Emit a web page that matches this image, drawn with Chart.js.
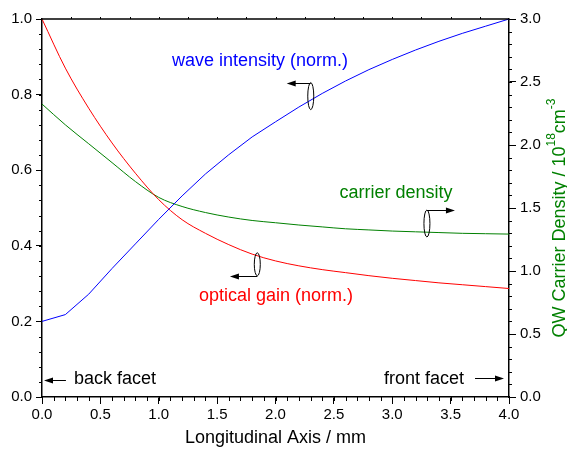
<!DOCTYPE html>
<html>
<head>
<meta charset="utf-8">
<script src="https://cdn.jsdelivr.net/npm/chart.js@4"></script>
<style>
  html, body { margin: 0; padding: 0; background: #fff; }
  #wrap { width: 567px; height: 453px; }
</style>
</head>
<body>
<div id="wrap"><canvas id="gainChart"></canvas></div>
<script>
// posiciones a lo largo del laser (mm)
var positions = [0, 0.2, 0.4, 0.6, 0.8, 1.0, 1.2, 1.4, 1.6, 1.8, 2.0, 2.2, 2.4, 2.6, 2.8, 3.0, 3.2, 3.4, 3.6, 3.8, 4.0];
// intensidad de onda (norm.) - eje izquierdo
var waveIntensity = [0.2, 0.218, 0.272, 0.34, 0.405, 0.47, 0.532, 0.59, 0.641, 0.688, 0.728, 0.767, 0.803, 0.836, 0.866, 0.893, 0.918, 0.941, 0.962, 0.981, 1.0];
// ganancia optica (norm.) - eje izquierdo
var opticalGain = [1.0, 0.87, 0.764, 0.672, 0.592, 0.522, 0.469, 0.433, 0.403, 0.378, 0.36, 0.347, 0.337, 0.329, 0.321, 0.314, 0.308, 0.302, 0.297, 0.292, 0.287];
// densidad de portadores (10^18 cm^-3) - eje derecho
var carrierDensity = [2.325, 2.16, 2.01, 1.86, 1.71, 1.584, 1.512, 1.464, 1.428, 1.401, 1.383, 1.365, 1.35, 1.335, 1.326, 1.317, 1.311, 1.305, 1.299, 1.296, 1.293];

var xTicks = [0, 0.5, 1.0, 1.5, 2.0, 2.5, 3.0, 3.5, 4.0];
var leftTicks = [0, 0.2, 0.4, 0.6, 0.8, 1.0];
var rightTicks = [0, 0.5, 1.0, 1.5, 2.0, 2.5, 3.0];

var FONT = "'Liberation Sans', Arial, sans-serif";

function toPoints(ys) {
  return positions.map(function (x, i) { return { x: x, y: ys[i] }; });
}

// Etiquetas y marcas (en unidades de datos del eje izquierdo)
var labels = [
  { text: "wave intensity (norm.)", x: 1.867, y: 0.889, color: "#0000ff", align: "center" },
  { text: "carrier density", x: 3.032, y: 0.539, color: "#008000", align: "center" },
  { text: "optical gain (norm.)", x: 2.004, y: 0.267, color: "#ff0000", align: "center" },
  { text: "back facet", x: 0.274, y: 0.048, color: "#000", align: "left" },
  { text: "front facet", x: 3.614, y: 0.048, color: "#000", align: "right" }
];
var facetArrows = [
  { x1: 0.205, x2: 0.017, y: 0.044 },
  { x1: 3.709, x2: 3.957, y: 0.049 }
];
var ellipses = [
  { x: 2.302, y: 0.796, ry: 13.5, toX: 2.096, side: "top" },
  { x: 1.844, y: 0.351, ry: 11.5, toX: 1.61, side: "bottom" },
  { x: 3.297, y: 0.459, ry: 13.5, toX: 3.537, side: "top" }
];

function arrowHead(ctx, x, y, dir) {
  ctx.beginPath();
  ctx.moveTo(x, y);
  ctx.lineTo(x - dir * 9, y - 3);
  ctx.lineTo(x - dir * 9, y + 3);
  ctx.closePath();
  ctx.fill();
}

var decorPlugin = {
  id: "decor",
  afterDraw: function (chart) {
    var ctx = chart.ctx;
    var xs = chart.scales.x, ys = chart.scales.y, y2 = chart.scales.y2;
    var area = chart.chartArea;
    ctx.save();

    // borde superior
    ctx.strokeStyle = "#000";
    ctx.lineWidth = 1.5;
    ctx.beginPath();
    ctx.moveTo(area.left, area.top);
    ctx.lineTo(area.right, area.top);
    ctx.stroke();

    // marcas menores
    ctx.lineWidth = 1;
    ctx.beginPath();
    var v, p;
    for (v = 0; v <= 4.0001; v += 0.1) {
      p = Math.round(xs.getPixelForValue(v)) + 0.5;
      ctx.moveTo(p, area.bottom);
      ctx.lineTo(p, area.bottom + 4);
    }
    for (v = 0.25; v < 4; v += 0.25) {
      p = Math.round(xs.getPixelForValue(v)) + 0.5;
      ctx.moveTo(p, area.top);
      ctx.lineTo(p, area.top - 2);
    }
    for (v = 0; v <= 1.0001; v += 0.04) {
      p = Math.round(ys.getPixelForValue(v)) + 0.5;
      ctx.moveTo(area.left, p);
      ctx.lineTo(area.left - 3, p);
    }
    for (v = 0; v <= 3.0001; v += 0.1) {
      p = Math.round(y2.getPixelForValue(v)) + 0.5;
      ctx.moveTo(area.right, p);
      ctx.lineTo(area.right + 3, p);
    }
    ctx.stroke();

    // textos
    ctx.font = "18px " + FONT;
    ctx.textBaseline = "middle";
    labels.forEach(function (l) {
      ctx.fillStyle = l.color;
      ctx.textAlign = l.align;
      ctx.fillText(l.text, xs.getPixelForValue(l.x), ys.getPixelForValue(l.y));
    });

    // flechas de facetas
    ctx.strokeStyle = "#000";
    ctx.fillStyle = "#000";
    facetArrows.forEach(function (a) {
      var px1 = xs.getPixelForValue(a.x1), px2 = xs.getPixelForValue(a.x2);
      var py = Math.round(ys.getPixelForValue(a.y)) + 0.5;
      var dir = px2 > px1 ? 1 : -1;
      ctx.beginPath();
      ctx.moveTo(px1, py);
      ctx.lineTo(px2 - dir * 8, py);
      ctx.stroke();
      arrowHead(ctx, px2, py, dir);
    });

    // elipses con flecha
    ellipses.forEach(function (e) {
      var cx = xs.getPixelForValue(e.x), cy = ys.getPixelForValue(e.y);
      ctx.beginPath();
      ctx.ellipse(cx, cy, 3, e.ry, 0, 0, Math.PI * 2);
      ctx.stroke();
      var ay = Math.round(e.side === "top" ? cy - e.ry : cy + e.ry) + 0.5;
      var tx = xs.getPixelForValue(e.toX);
      var dir = tx > cx ? 1 : -1;
      ctx.beginPath();
      ctx.moveTo(cx, ay);
      ctx.lineTo(tx - dir * 8, ay);
      ctx.stroke();
      arrowHead(ctx, tx, ay, dir);
    });

    // titulo del eje derecho con superindices
    var parts = [
      { t: "QW Carrier Density / 10", s: 18, dy: 0 },
      { t: "18", s: 12, dy: -8 },
      { t: "cm", s: 18, dy: 0 },
      { t: "-3", s: 12, dy: -8 }
    ];
    var total = 0;
    parts.forEach(function (pt) {
      ctx.font = pt.s + "px " + FONT;
      pt.w = ctx.measureText(pt.t).width;
      total += pt.w;
    });
    ctx.translate(560, (area.top + area.bottom) / 2 + 10);
    ctx.rotate(-Math.PI / 2);
    ctx.fillStyle = "#008000";
    ctx.textAlign = "left";
    ctx.textBaseline = "middle";
    var cur = -total / 2;
    parts.forEach(function (pt) {
      ctx.font = pt.s + "px " + FONT;
      ctx.fillText(pt.t, cur, pt.dy);
      cur += pt.w;
    });
    ctx.restore();
  }
};

function tickFmt(v) { return Number(v).toFixed(1); }

var ctx = document.getElementById("gainChart").getContext("2d");

var gainChart = new Chart(ctx, {
  type: "line",
  data: {
    datasets: [
      {
        label: "wave intensity (norm.)",
        data: toPoints(waveIntensity),
        borderColor: "#0000ff",
        borderWidth: 1,
        pointRadius: 0,
        tension: 0,
        yAxisID: "y"
      },
      {
        label: "optical gain (norm.)",
        data: toPoints(opticalGain),
        borderColor: "#ff0000",
        borderWidth: 1,
        pointRadius: 0,
        cubicInterpolationMode: "monotone",
        yAxisID: "y"
      },
      {
        label: "carrier density",
        data: toPoints(carrierDensity),
        borderColor: "#008000",
        borderWidth: 1,
        pointRadius: 0,
        cubicInterpolationMode: "monotone",
        yAxisID: "y2"
      }
    ]
  },
  options: {
    responsive: true,
    maintainAspectRatio: false,
    animation: false,
    layout: { padding: { top: 19, left: 0, right: 0, bottom: 0 } },
    plugins: {
      legend: { display: false },
      tooltip: { enabled: false }
    },
    scales: {
      x: {
        type: "linear",
        position: "bottom",
        min: 0,
        max: 4,
        afterBuildTicks: function (s) { s.ticks = xTicks.map(function (v) { return { value: v }; }); },
        afterFit: function (s) { s.height = 56; },
        ticks: { callback: tickFmt, color: "#000", font: { family: FONT, size: 15 }, padding: 2, maxRotation: 0 },
        grid: { drawOnChartArea: false, tickLength: 7, color: "#000", tickWidth: 1 },
        border: { color: "#000", width: 1.5 },
        title: { display: true, text: "Longitudinal Axis / mm", color: "#000", font: { family: FONT, size: 18 }, padding: { top: 4 } }
      },
      y: {
        position: "left",
        min: 0,
        max: 1,
        afterBuildTicks: function (s) { s.ticks = leftTicks.map(function (v) { return { value: v }; }); },
        afterFit: function (s) { s.width = 42; },
        ticks: { callback: tickFmt, color: "#000", font: { family: FONT, size: 15 }, padding: 4 },
        grid: { drawOnChartArea: false, tickLength: 6, color: "#000", tickWidth: 1 },
        border: { color: "#000", width: 1.5 }
      },
      y2: {
        position: "right",
        min: 0,
        max: 3,
        afterBuildTicks: function (s) { s.ticks = rightTicks.map(function (v) { return { value: v }; }); },
        afterFit: function (s) { s.width = 58; },
        ticks: { callback: tickFmt, color: "#000", font: { family: FONT, size: 15 }, padding: 4 },
        grid: { drawOnChartArea: false, tickLength: 7, color: "#000", tickWidth: 1 },
        border: { color: "#000", width: 1.5 }
      }
    }
  },
  plugins: [decorPlugin]
});
</script>
</body>
</html>
